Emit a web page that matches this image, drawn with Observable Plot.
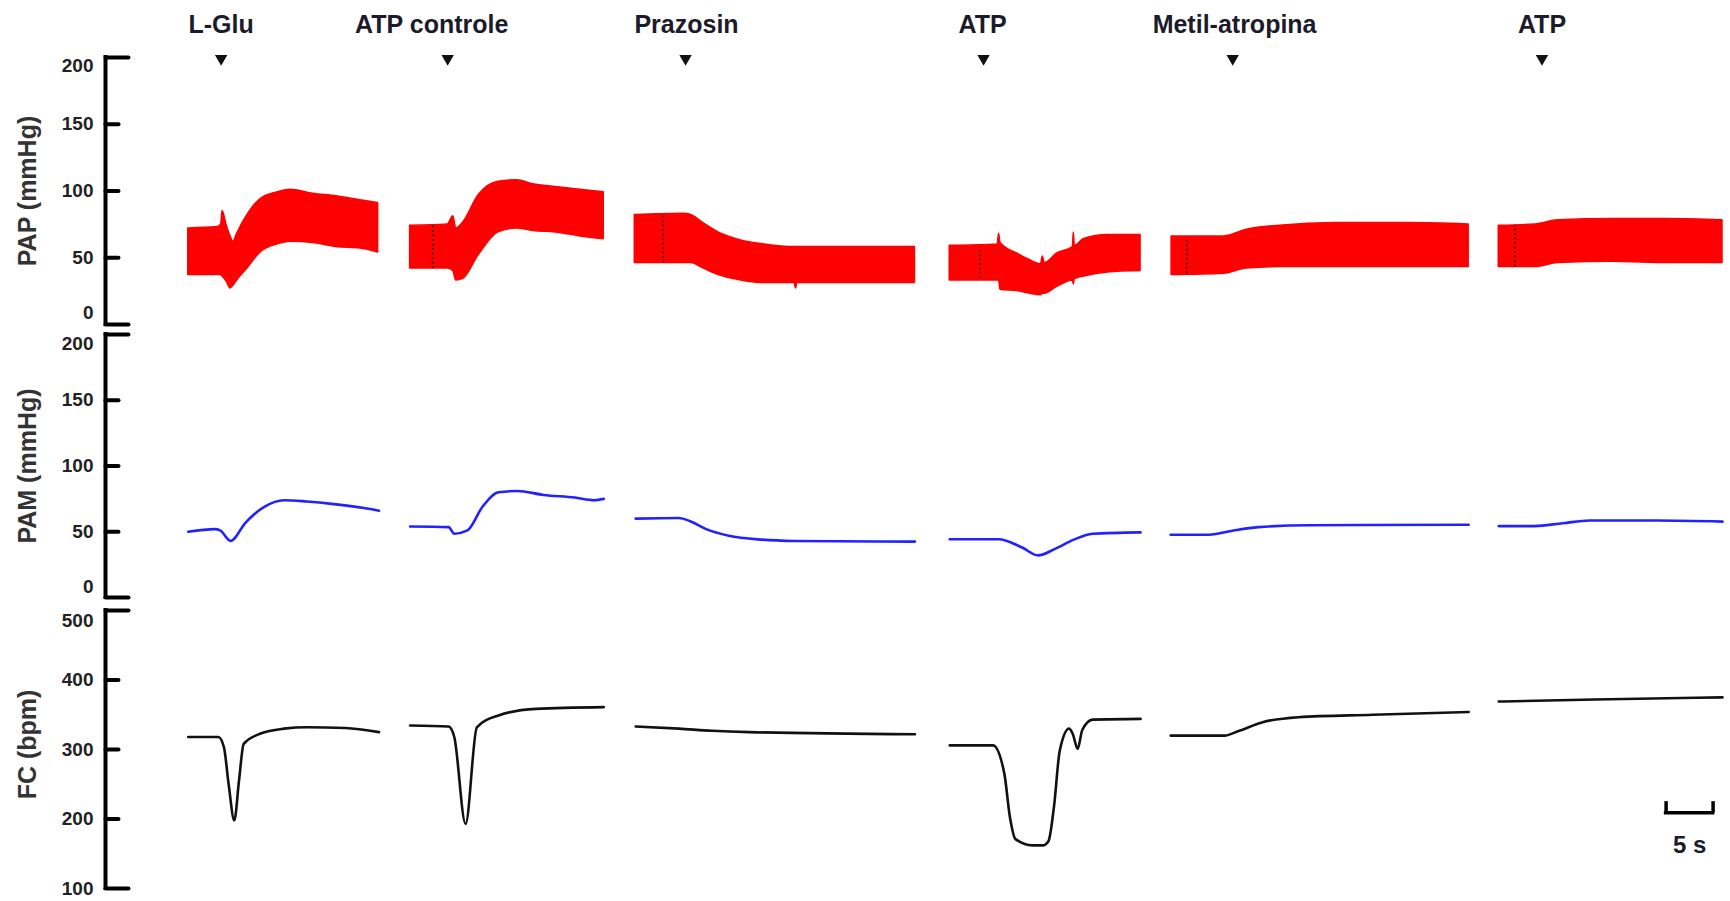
<!DOCTYPE html>
<html><head><meta charset="utf-8">
<script src="https://cdn.jsdelivr.net/npm/d3@7"></script>
<script src="https://cdn.jsdelivr.net/npm/@observablehq/plot@0.6"></script>
<style>
html,body{margin:0;padding:0;background:#fff;overflow:hidden;}
#chart{position:relative;width:1730px;height:901px;}
#chart svg{position:absolute;left:0;overflow:visible;background:transparent;}
</style></head><body><div id="chart"></div>
<script>
// ---- events (time in seconds) ----
const eventLabels = ["L-Glu", "ATP controle", "Prazosin", "ATP", "Metil-atropina", "ATP"];
const eventTimes = [12.3, 36.4, 61.7, 93.4, 119.9, 152.8];
const eventLabelTimes = [12.3, 34.7, 61.8, 93.3, 120.1, 152.8];

// ---- PAP (mmHg): pulsatile band, low/high envelope per segment ----
const papTime = [
  [8.8, 11.9, 12.3, 12.45, 12.9, 13.3, 13.6, 14.0, 15.1, 16.5, 18.3, 19.7, 22.1, 24.6, 27.1, 29.0],
  [32.4, 36.4, 37.0, 37.3, 38.0, 39.7, 41.8, 43.8, 45.5, 47.9, 50.5, 53.0],
  [56.3, 61.5, 62.3, 63.6, 65.2, 67.6, 70.1, 73.3, 73.45, 73.6, 79.0, 86.1],
  [89.8, 94.9, 95.05, 95.2, 97.0, 98.4, 99.5, 99.7, 99.9, 101.2, 102.9, 103.0, 103.1, 104.1, 106.6, 110.1],
  [113.4, 119.0, 121.4, 124.9, 130.9, 138.7, 145.0],
  [148.2, 152.1, 154.5, 160.4, 166.3, 172.0]
];
const papLow = [
  [37, 37, 37, 36, 32, 27, 29, 33, 42, 54, 60, 62, 61, 58, 57, 54],
  [42, 42, 40, 33, 34, 52, 69, 72, 70, 69, 66, 64],
  [46, 46, 46, 42, 37, 33, 31, 31, 27, 31, 31, 31],
  [33, 33, 33, 26, 25, 23, 22, 23, 23, 28, 33, 30, 34, 36, 39, 40],
  [37, 38, 42, 43, 43, 43, 43],
  [43, 43, 46, 47, 46, 46]
];
const papHigh = [
  [72, 73, 75, 85, 74, 66, 62, 68, 82, 94, 99, 101, 98, 96, 93, 91],
  [74, 75, 81, 72, 76, 97, 107, 108, 105, 103, 101, 99],
  [82, 83, 82, 76, 69, 63, 60, 58, 58, 58, 58, 58],
  [59, 60, 68, 61, 53, 48, 45, 51, 46, 53, 58, 69, 59, 64, 67, 67],
  [66, 66, 71, 74, 76, 76, 75],
  [74, 75, 78, 79, 79, 78]
];
// injection markers (dotted) inside the PAP band
const markerTimes = [34.8, 59.3, 93.0, 115.0, 149.9];
const markerLow = [42, 46, 34, 38, 43];
const markerHigh = [74, 82, 58, 65, 74];

// ---- PAM (mmHg) ----
const pamTime = [
  [8.8, 11.6, 12.2, 13.3, 14.9, 16.9, 19.0, 21.4, 24.3, 27.5, 29.1],
  [32.4, 36.5, 37.1, 38.5, 40.1, 41.8, 43.8, 46.6, 49.9, 52.0, 53.0],
  [56.4, 61.0, 62.2, 63.9, 66.3, 69.8, 73.3, 86.1],
  [89.8, 95.0, 97.5, 99.2, 101.0, 103.0, 105.0, 110.1],
  [113.3, 117.4, 120.0, 122.6, 128.0, 145.0],
  [148.2, 152.0, 155.0, 157.9, 165.0, 172.0]
];
const pamValue = [
  [50, 52, 51, 43, 57, 69, 74, 73, 71, 68, 66],
  [54, 53.5, 48.5, 51, 69, 80, 81, 78, 76, 74, 75],
  [60, 60.5, 58, 52, 47, 44, 43, 42.5],
  [44.3, 44.3, 38, 32, 37, 44, 48.5, 49.5],
  [47.7, 47.7, 51, 53.5, 55, 55.3],
  [54.3, 54.3, 56.5, 58.5, 58.5, 57.7]
];

// ---- FC (bpm) ----
const fcTime = [
  [8.8, 12.0, 12.6, 13.1, 13.7, 14.2, 14.7, 16.5, 19.0, 21.4, 25.5, 29.1],
  [32.4, 36.5, 37.1, 38.3, 39.5, 41.8, 45.8, 53.0],
  [56.4, 61.0, 64.5, 68.5, 86.1],
  [89.8, 94.4, 95.6, 96.2, 96.8, 98.6, 99.7, 100.3, 100.9, 101.5, 102.5, 102.9, 103.4, 103.9, 105.0, 110.1],
  [113.3, 119.0, 120.6, 123.0, 126.9, 134.8, 145.0],
  [148.2, 158.4, 172.0]
];
const fcValue = [
  [318, 318, 303, 250, 198, 255, 308, 323, 330, 332, 331, 325],
  [334.5, 333, 318, 193, 332, 349, 358.5, 361],
  [333, 330, 327, 325, 322],
  [306, 306, 266, 203, 171, 162, 162, 168, 219, 298, 330, 322, 301, 328, 343, 344],
  [320, 320, 327, 339, 346.5, 350, 354],
  [369, 372, 375]
];

// ---- axes ----
const papTicks = [0, 50, 100, 150, 200];
const pamTicks = [0, 50, 100, 150, 200];
const fcTicks = [100, 200, 300, 400, 500];
const scaleBarStart = 166, scaleBarSeconds = 5;

// ---- build tables ----
const papRows = papTime.flatMap((ts, s) => ts.map((t, i) => ({seg: s, t, low: papLow[s][i], high: papHigh[s][i]})));
const pamRows = pamTime.flatMap((ts, s) => ts.map((t, i) => ({seg: s, t, v: pamValue[s][i]})));
const fcRows = fcTime.flatMap((ts, s) => ts.map((t, i) => ({seg: s, t, v: fcValue[s][i]})));
const markerRows = markerTimes.map((t, i) => ({t, low: markerLow[i], high: markerHigh[i]}));

const FONT = "'Liberation Sans', Arial, Helvetica, sans-serif";
const W = 1730;
const xScale = {domain: [0, 172], axis: null};
const tickShape = {draw(ctx, l) { ctx.moveTo(0, 0); ctx.lineTo(l, 0); }};

function axisMarks(ticks, title, topDy, bottomDy, titleDy = 0) {
  const lo = d3.min(ticks), hi = d3.max(ticks);
  const mid = ticks.filter(v => v !== lo && v !== hi);
  const lab = {tickSize: 0, tickPadding: 12, fontSize: 19, fontWeight: "bold", fill: "#222", label: null, tickFormat: d => String(d)};
  return [
    Plot.ruleX([0], {y1: lo, y2: hi, stroke: "#000", strokeWidth: 4, strokeLinecap: "square"}),
    Plot.vector([lo, hi], {x: 0, y: d => d, length: 23, shape: tickShape, anchor: "start", stroke: "#000", strokeWidth: 4}),
    Plot.vector(mid, {x: 0, y: d => d, length: 13, shape: tickShape, anchor: "start", stroke: "#000", strokeWidth: 4}),
    Plot.axisY(mid, lab),
    Plot.axisY([hi], {...lab, dy: topDy}),
    Plot.axisY([lo], {...lab, dy: bottomDy}),
    Plot.text([title], {frameAnchor: "left", dx: -78, dy: titleDy, rotate: -90, textAnchor: "middle", lineAnchor: "middle", fontSize: 25, fontWeight: "bold", fill: "#333"})
  ];
}

const common = {width: W, marginLeft: 105, marginRight: 8, x: xScale, style: {fontFamily: FONT, background: "transparent", overflow: "visible"}};

const pap = Plot.plot({
  ...common, height: 330, marginTop: 57, marginBottom: 6,
  y: {domain: [0, 200], axis: null},
  marks: [
    Plot.areaY(papRows, {x: "t", y1: "low", y2: "high", z: "seg", fill: "#ff0000", stroke: "#ff0000", strokeWidth: 1.5, curve: "monotone-x"}),
    Plot.ruleX(markerRows, {x: "t", y1: "low", y2: "high", stroke: "#3a0000", strokeWidth: 1.5, strokeDasharray: "2,2.5"}),
    Plot.text(eventLabels, {x: (d, i) => eventLabelTimes[i], text: d => d, frameAnchor: "top", lineAnchor: "middle", dy: -33, fontSize: 25, fontWeight: "bold", fill: "#1b1b2b"}),
    Plot.dot(eventTimes, {x: d => d, frameAnchor: "top", dy: 1, symbol: "triangle", rotate: 180, r: 4.6, fill: "#111", stroke: null}),
    ...axisMarks(papTicks, "PAP (mmHg)", 8, -12)
  ]
});
pap.style.top = "0px";

const pam = Plot.plot({
  ...common, height: 270, marginTop: 4, marginBottom: 3,
  y: {domain: [0, 200], axis: null},
  marks: [
    Plot.lineY(pamRows, {x: "t", y: "v", z: "seg", stroke: "#2222ff", strokeWidth: 2.6, curve: "monotone-x"}),
    ...axisMarks(pamTicks, "PAM (mmHg)", 9, -11)
  ]
});
pam.style.top = "330px";

const fc = Plot.plot({
  ...common, height: 301, marginTop: 10, marginBottom: 13,
  y: {domain: [100, 500], axis: null},
  marks: [
    Plot.lineY(fcRows, {x: "t", y: "v", z: "seg", stroke: "#111", strokeWidth: 2.6, curve: "monotone-x"}),
    ...axisMarks(fcTicks, "FC (bpm)", 10, 0, -5),
    Plot.ruleY([209], {x1: scaleBarStart, x2: scaleBarStart + scaleBarSeconds, stroke: "#000", strokeWidth: 3.5, strokeLinecap: "square"}),
    Plot.ruleX([scaleBarStart, scaleBarStart + scaleBarSeconds], {y1: 209, y2: 225, stroke: "#000", strokeWidth: 3.5}),
    Plot.text([scaleBarSeconds + " s"], {x: scaleBarStart + scaleBarSeconds / 2, y: 162, fontSize: 24, fontWeight: "bold", fill: "#1b1b2b"})
  ]
});
fc.style.top = "600px";

const root = document.getElementById("chart");
root.append(pap, pam, fc);
</script></body></html>
